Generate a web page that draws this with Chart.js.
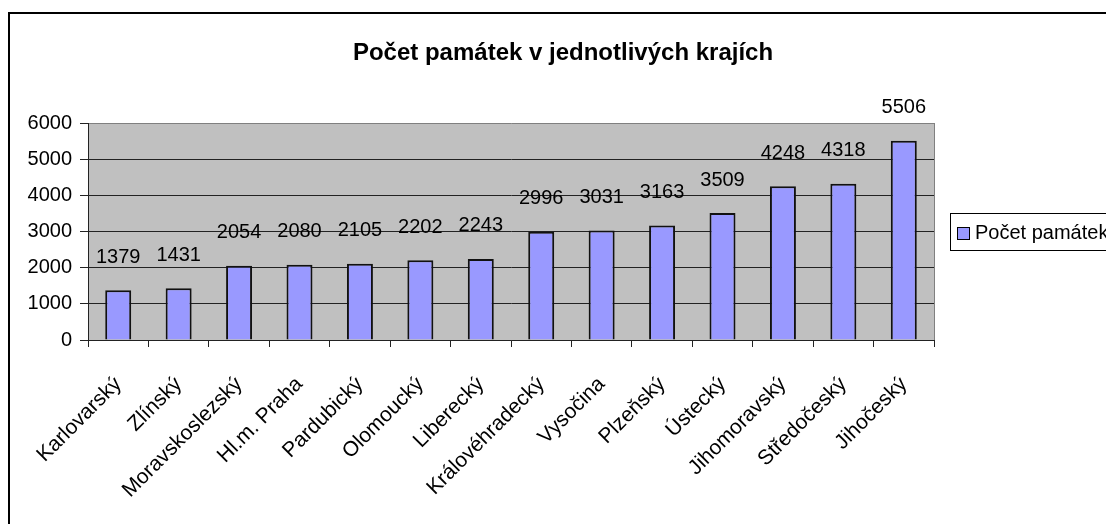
<!DOCTYPE html>
<html>
<head>
<meta charset="utf-8">
<script src="https://cdn.jsdelivr.net/npm/chart.js@4.4.1/dist/chart.umd.min.js"></script>
<style>
body { margin: 0; background: #fff; overflow: hidden; }
</style>
</head>
<body>
<canvas id="chart" width="1106" height="524"></canvas>
<script>
'use strict'
// data
var regions = ['Karlovarský', 'Zlínský', 'Moravskoslezský', 'Hl.m. Praha', 'Pardubický',
    'Olomoucký', 'Liberecký', 'Královéhradecký', 'Vysočina', 'Plzeňský', 'Ústecký',
    'Jihomoravský', 'Středočeský', 'Jihočeský'];
var monuments = [1379, 1431, 2054, 2080, 2105, 2202, 2243, 2996, 3031, 3163, 3509, 4248, 4318, 5506];
var yTicks = [0, 1000, 2000, 3000, 4000, 5000, 6000];
var seriesName = 'Počet památek';
var chartTitle = 'Počet památek v jednotlivých krajích';

var font = "'Liberation Sans', Arial, sans-serif";
var barColor = '#9999FF';

// old excel look: grey plot area, frame, title, labels above bars, legend box
var excelLook = {
    id: 'excelLook',
    beforeDraw: function (chart) {
        var c = chart.ctx, a = chart.chartArea;
        c.save();
        c.fillStyle = '#C0C0C0';
        c.fillRect(a.left, a.top, a.right - a.left, a.bottom - a.top);
        c.restore();
    },
    afterDatasetsDraw: function (chart) {
        var c = chart.ctx;
        var meta = chart.getDatasetMeta(0);
        c.save();
        c.font = '20px ' + font;
        c.fillStyle = '#000';
        c.textAlign = 'center';
        c.textBaseline = 'middle';
        meta.data.forEach(function (bar, i) {
            c.fillText(String(monuments[i]), bar.x, bar.y - 33);
        });
        c.restore();
    },
    afterDraw: function (chart) {
        var c = chart.ctx, a = chart.chartArea;
        c.save();
        // plot border right
        c.strokeStyle = '#808080';
        c.lineWidth = 1;
        c.beginPath();
        c.moveTo(Math.round(a.right) + 0.5, a.top);
        c.lineTo(Math.round(a.right) + 0.5, a.bottom);
        c.stroke();
        // outer frame (runs off the right and bottom)
        c.strokeStyle = '#000';
        c.lineWidth = 2;
        c.beginPath();
        c.moveTo(9, chart.height + 5);
        c.lineTo(9, 13);
        c.lineTo(chart.width + 5, 13);
        c.stroke();
        // title
        c.font = 'bold 24px ' + font;
        c.fillStyle = '#000';
        c.textAlign = 'center';
        c.textBaseline = 'middle';
        c.fillText(chartTitle, 563, 53);
        // legend
        c.lineWidth = 1;
        c.fillStyle = '#fff';
        c.fillRect(950.5, 213.5, 200, 37);
        c.strokeRect(950.5, 213.5, 200, 37);
        c.fillStyle = barColor;
        c.fillRect(957.5, 227.5, 12, 12);
        c.strokeRect(957.5, 227.5, 12, 12);
        c.fillStyle = '#000';
        c.font = '20px ' + font;
        c.textAlign = 'left';
        c.fillText(seriesName, 975, 233);
        c.restore();
    }
};

var chartArea = document.getElementById('chart');
var monumentsChart = new Chart(chartArea, {
    type: 'bar',
    data: {
        labels: regions,
        datasets: [{
            label: seriesName,
            data: monuments,
            backgroundColor: barColor,
            borderColor: '#111',
            borderWidth: 2,
            barPercentage: 0.43,
            categoryPercentage: 1
        }]
    },
    options: {
        responsive: false,
        animation: false,
        devicePixelRatio: 1,
        layout: { padding: { left: 0, right: 172, top: 123, bottom: 0 } },
        plugins: {
            legend: { display: false },
            title: { display: false },
            tooltip: { enabled: false }
        },
        scales: {
            x: {
                offset: true,
                grid: { drawOnChartArea: false, tickLength: 7, color: '#222' },
                border: { color: '#222', width: 1 },
                ticks: {
                    autoSkip: false,
                    maxRotation: 45,
                    minRotation: 45,
                    padding: 25,
                    color: '#000',
                    font: { family: font, size: 21 }
                },
                afterFit: function (s) { s.height = 184; }
            },
            y: {
                min: yTicks[0],
                max: yTicks[yTicks.length - 1],
                grid: {
                    color: function (ctx) {
                        return ctx.tick && ctx.tick.value === yTicks[yTicks.length - 1] ? '#808080' : '#222';
                    },
                    tickColor: '#222',
                    tickLength: 8
                },
                border: { color: '#222', width: 1 },
                ticks: {
                    stepSize: yTicks[1] - yTicks[0],
                    padding: 8,
                    color: '#000',
                    font: { family: font, size: 20 },
                    callback: function (v) { return String(v); }
                },
                afterFit: function (s) { s.width = 88; }
            }
        }
    },
    plugins: [excelLook]
});
</script>
</body>
</html>
